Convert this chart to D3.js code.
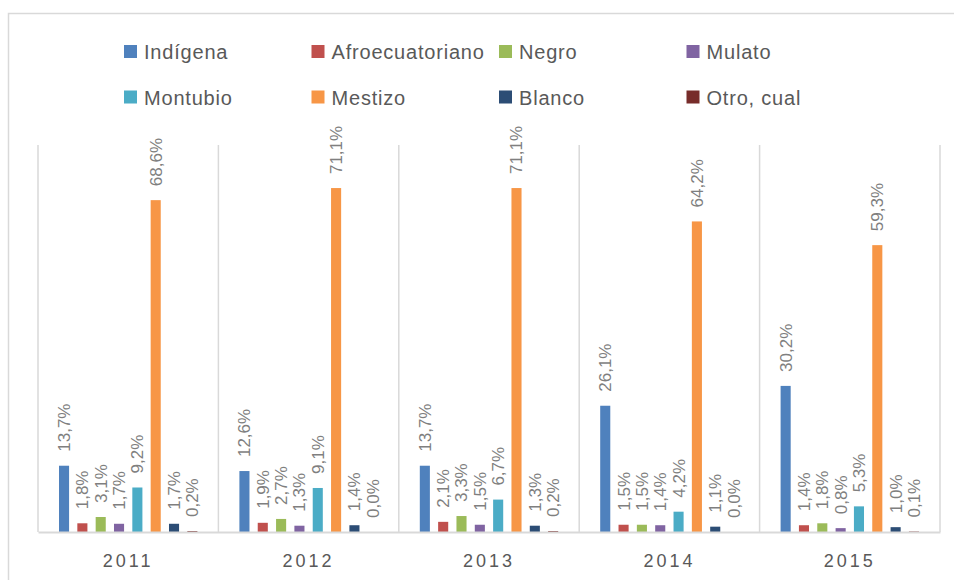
<!DOCTYPE html>
<html>
<head>
<meta charset="utf-8">
<script src="https://cdn.jsdelivr.net/npm/d3@7"></script>
<style>
  body { margin: 0; background: #fff; }
  svg { display: block; font-family: "Liberation Sans", Arial, sans-serif; }
</style>
</head>
<body>
<svg width="954" height="580"></svg>
<script>
// years on the category axis
var years = ["2011", "2012", "2013", "2014", "2015"];

// series (self-identification)
var series = ["Indígena", "Afroecuatoriano", "Negro", "Mulato", "Montubio", "Mestizo", "Blanco", "Otro, cual"];
var colors = ["#4f81bd", "#c0504d", "#9bbb59", "#8064a2", "#4bacc6", "#f79646", "#2c4d75", "#772c2a"];

// percentage per series, one value per year
var indigena  = [13.7, 12.6, 13.7, 26.1, 30.2];
var afro      = [1.8, 1.9, 2.1, 1.5, 1.4];
var negro     = [3.1, 2.7, 3.3, 1.5, 1.8];
var mulato    = [1.7, 1.3, 1.5, 1.4, 0.8];
var montubio  = [9.2, 9.1, 6.7, 4.2, 5.3];
var mestizo   = [68.6, 71.1, 71.1, 64.2, 59.3];
var blanco    = [1.7, 1.4, 1.3, 1.1, 1.0];
var otro      = [0.2, 0.0, 0.2, 0.0, 0.1];

var values = [indigena, afro, negro, mulato, montubio, mestizo, blanco, otro];

var svg = d3.select("svg"),
    margin = {top: 145, right: 14, bottom: 48, left: 38},
    width = svg.attr("width") - margin.left - margin.right,
    height = svg.attr("height") - margin.top - margin.bottom;

var formatPct = function(v) { return v.toFixed(1).replace(".", ",") + "%"; };

// outer chart border
svg.append("rect")
    .attr("x", 8.5).attr("y", 13.5)
    .attr("width", 980).attr("height", 620)
    .attr("fill", "none")
    .attr("stroke", "#d9d9d9")
    .attr("stroke-width", 1.5);

var x0 = d3.scaleBand()
    .domain(years)
    .range([0, width]);

var x1 = d3.scaleBand()
    .domain(series)
    .range([21, x0.bandwidth() - 21])
    .paddingInner(0.45);

var y = d3.scaleLinear()
    .domain([0, 80])
    .range([height, 0]);

var g = svg.append("g")
    .attr("transform", "translate(" + margin.left + "," + margin.top + ")");

// vertical separators between years
var edges = years.map(function(d) { return x0(d); }).concat([width]);
g.append("g")
    .attr("class", "grid")
  .selectAll("line").data(edges).enter().append("line")
    .attr("x1", function(d) { return d; })
    .attr("x2", function(d) { return d; })
    .attr("y1", 0)
    .attr("y2", height)
    .attr("stroke", "#d9d9d9")
    .attr("stroke-width", 1.5);

// bars
var group = g.selectAll(".year")
    .data(years).enter().append("g")
    .attr("class", "year")
    .attr("transform", function(d) { return "translate(" + x0(d) + ",0)"; });

group.selectAll("rect")
    .data(function(d, i) { return series.map(function(s, j) { return {s: s, j: j, v: values[j][i]}; }); })
    .enter().append("rect")
    .attr("x", function(d) { return x1(d.s); })
    .attr("width", x1.bandwidth())
    .attr("y", function(d) { return y(d.v); })
    .attr("height", function(d) { return height - y(d.v); })
    .attr("fill", function(d) { return colors[d.j]; });

group.selectAll("text")
    .data(function(d, i) { return series.map(function(s, j) { return {s: s, j: j, v: values[j][i]}; }); })
    .enter().append("text")
    .attr("transform", function(d) {
      return "translate(" + (x1(d.s) + x1.bandwidth() / 2) + "," + (y(d.v) - 14) + ") rotate(-90)";
    })
    .attr("dy", "0.35em")
    .attr("font-size", 17)
    .attr("fill", "#7f7f7f")
    .text(function(d) { return formatPct(d.v); });

// category axis
var axis = g.append("g")
    .attr("class", "axis axis--x")
    .attr("transform", "translate(0," + height + ")")
    .call(d3.axisBottom(x0).tickSize(0).tickPadding(22));

axis.select(".domain")
    .attr("stroke", "#d9d9d9")
    .attr("stroke-width", 2);

axis.selectAll("text")
    .attr("font-size", 18)
    .attr("font-family", "Liberation Sans, Arial, sans-serif")
    .attr("letter-spacing", 3)
    .attr("fill", "#595959");

// legend, 4 columns x 2 rows
var legend = svg.append("g")
    .attr("class", "legend")
  .selectAll("g").data(series).enter().append("g")
    .attr("transform", function(d, i) {
      return "translate(" + (124 + (i % 4) * 187.5) + "," + (52 + Math.floor(i / 4) * 45.5) + ")";
    });

legend.append("rect")
    .attr("y", -7)
    .attr("width", 13)
    .attr("height", 13)
    .attr("fill", function(d, i) { return colors[i]; });

legend.append("text")
    .attr("x", 20)
    .attr("dy", "0.35em")
    .attr("font-size", 20)
    .attr("letter-spacing", 0.8)
    .attr("fill", "#595959")
    .text(function(d) { return d; });
</script>
</body>
</html>
